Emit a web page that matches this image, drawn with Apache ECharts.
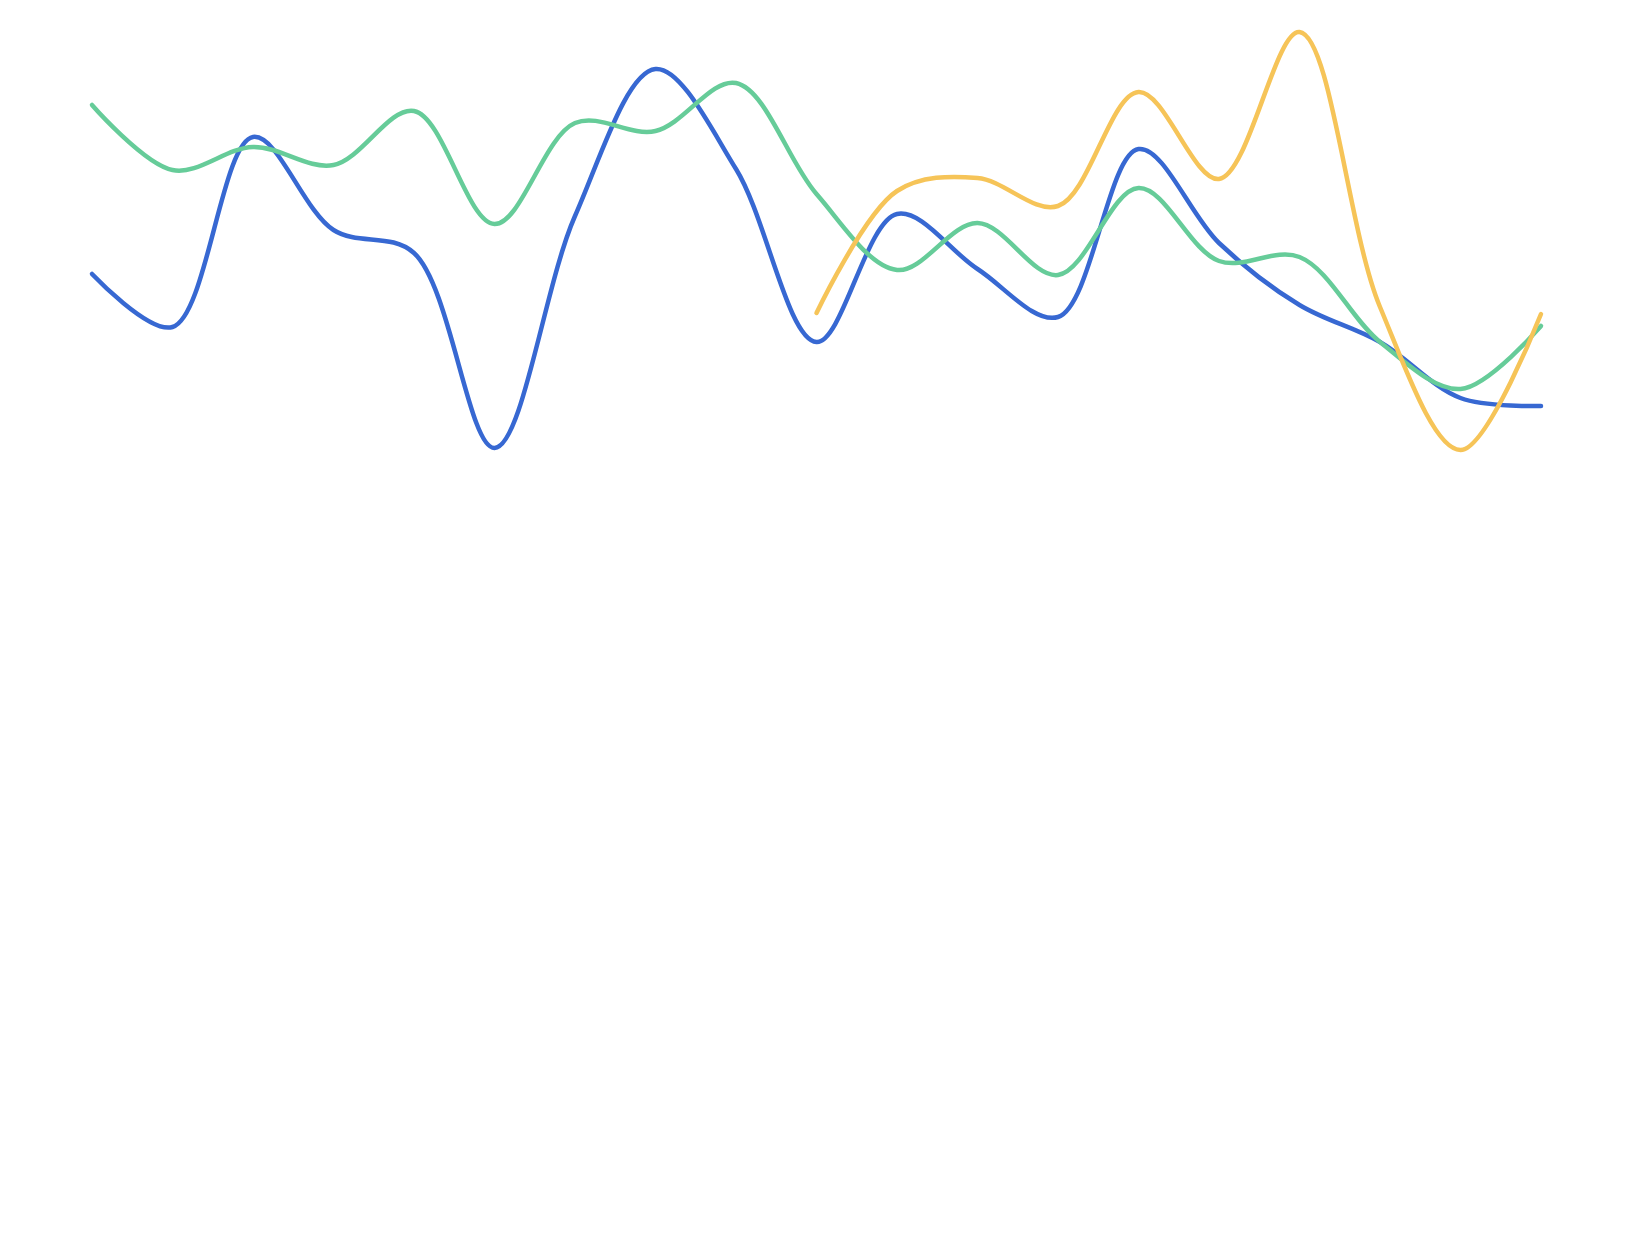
<!DOCTYPE html>
<html>
<head>
<meta charset="utf-8">
<script src="https://cdn.jsdelivr.net/npm/echarts@6/dist/echarts.min.js"></script>
<style>
html,body{margin:0;padding:0;background:#fff;}
#chart{width:1634px;height:1255px;}
</style>
</head>
<body>
<div id="chart"></div>
<script>
const categories = ['1','2','3','4','5','6','7','8','9','10','11','12','13','14','15','16','17','18','19'];
const seriesA = [92.6, 87.3, 106.3, 97.0, 94.7, 75.2, 98.4, 113.1, 103.1, 85.8, 98.6, 93.1, 88.3, 105.1, 95.7, 89.5, 85.8, 80.2, 79.4];
const seriesB = [109.5, 103.0, 105.3, 103.5, 108.9, 97.6, 107.7, 106.9, 111.7, 100.6, 93.0, 97.7, 92.5, 101.2, 93.9, 94.3, 85.8, 81.1, 87.4];
const seriesC = [null, null, null, null, null, null, null, null, null, 88.7, 100.9, 102.2, 99.4, 110.8, 102.1, 116.8, 89.3, 75.0, 88.6];

const ALPHA = 0.5;
const chart = echarts.init(document.getElementById('chart'));

function dist(a, b) { return Math.hypot(a[0] - b[0], a[1] - b[1]); }

// centripetal Catmull-Rom spline as bezier segments
function crPath(pts) {
  const n = pts.length;
  let d = 'M' + pts[0][0] + ' ' + pts[0][1];
  for (let i = 0; i < n - 1; i++) {
    const p0 = pts[i - 1], p1 = pts[i], p2 = pts[i + 1], p3 = pts[i + 2];
    const d12 = dist(p1, p2);
    const l12a = Math.pow(d12, ALPHA), l122a = Math.pow(d12, 2 * ALPHA);
    let c1 = p1.slice(), c2 = p2.slice();
    if (p0) {
      const d01 = dist(p0, p1);
      const l01a = Math.pow(d01, ALPHA), l012a = Math.pow(d01, 2 * ALPHA);
      if (l01a > 1e-12) {
        const a = 2 * l012a + 3 * l01a * l12a + l122a;
        const m = 3 * l01a * (l01a + l12a);
        c1 = [(p1[0] * a - p0[0] * l122a + p2[0] * l012a) / m,
              (p1[1] * a - p0[1] * l122a + p2[1] * l012a) / m];
      }
    }
    if (p3) {
      const d23 = dist(p2, p3);
      const l23a = Math.pow(d23, ALPHA), l232a = Math.pow(d23, 2 * ALPHA);
      if (l23a > 1e-12) {
        const b = 2 * l232a + 3 * l23a * l12a + l122a;
        const m = 3 * l23a * (l23a + l12a);
        c2 = [(p2[0] * b + p1[0] * l232a - p3[0] * l122a) / m,
              (p2[1] * b + p1[1] * l232a - p3[1] * l122a) / m];
      }
    }
    d += ' C' + c1[0] + ' ' + c1[1] + ' ' + c2[0] + ' ' + c2[1] + ' ' + p2[0] + ' ' + p2[1];
  }
  return d;
}

function mk(values, color) {
  const data = [];
  values.forEach((v, i) => { if (v !== null) data.push([i, v]); });
  return {
    type: 'custom',
    coordinateSystem: 'cartesian2d',
    encode: { x: 0, y: 1 },
    data: data,
    renderItem: function (params, api) {
      if (params.dataIndex !== 0) return null;
      const pts = data.map(d => api.coord(d));
      return {
        type: 'path',
        shape: { pathData: crPath(pts) },
        style: { fill: 'none', stroke: color, lineWidth: 4.5, lineCap: 'round', lineJoin: 'round' }
      };
    }
  };
}

chart.setOption({
  animation: false,
  grid: { left: 92, right: 93, top: 0, bottom: 55 },
  xAxis: { type: 'category', data: categories, boundaryGap: false, show: false },
  yAxis: { type: 'value', min: 0, max: 120, show: false },
  series: [mk(seriesA, '#3768d2'), mk(seriesB, '#66cc99'), mk(seriesC, '#f6c458')]
});
</script>
</body>
</html>
